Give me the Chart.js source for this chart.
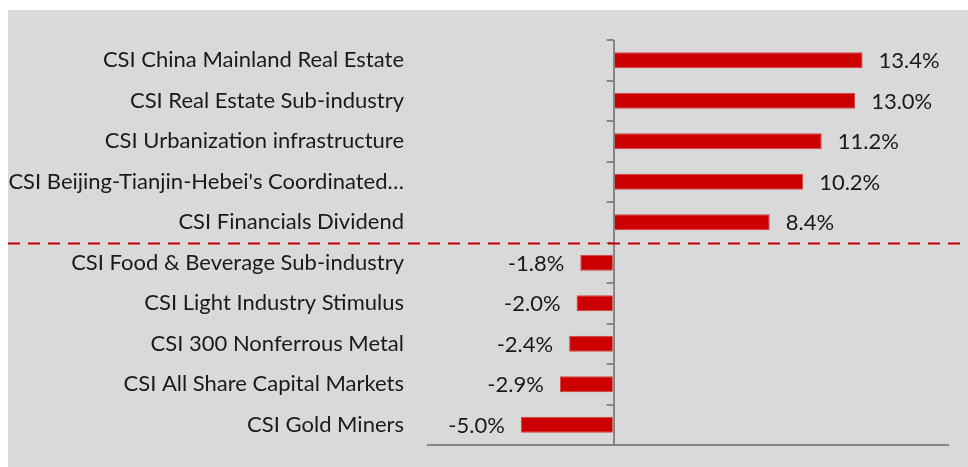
<!DOCTYPE html>
<html>
<head>
<meta charset="utf-8">
<script src="https://cdn.jsdelivr.net/npm/chart.js@4"></script>
<style>
  body { margin: 0; background: #fff; }
  #wrap { position: absolute; left: 8px; top: 10px; width: 960px; height: 457px; background: #d9d9d9; }
</style>
</head>
<body>
<div id="wrap"><canvas id="chart" width="960" height="457"></canvas></div>
<script>
const categories = [
  "CSI China Mainland Real Estate",
  "CSI Real Estate Sub-industry",
  "CSI Urbanization infrastructure",
  "CSI Beijing-Tianjin-Hebei's Coordinated…",
  "CSI Financials Dividend",
  "CSI Food & Beverage Sub-industry",
  "CSI Light Industry Stimulus",
  "CSI 300 Nonferrous Metal",
  "CSI All Share Capital Markets",
  "CSI Gold Miners"
];
const values = [13.4, 13.0, 11.2, 10.2, 8.4, -1.8, -2.0, -2.4, -2.9, -5.0];
const splitAfter = 4; // dashed line below this row

const FONT = "Lato, 'Liberation Sans', sans-serif";
const FONT_SIZE = 22;

// value labels, zero-line ticks and the dashed divider
const extras = {
  id: 'extras',
  afterDatasetsDraw(chart) {
    const ctx = chart.ctx;
    const xs = chart.scales.x;
    const ys = chart.scales.y;
    const x0 = xs.getPixelForValue(0);
    const step = ys.getPixelForValue(1) - ys.getPixelForValue(0);

    ctx.save();
    // ticks on the zero line at row boundaries
    ctx.strokeStyle = '#868686';
    ctx.lineWidth = 2;
    for (let i = 0; i <= categories.length; i++) {
      const y = Math.round(ys.getPixelForValue(i) - step / 2);
      ctx.beginPath();
      ctx.moveTo(x0 - 7, y);
      ctx.lineTo(x0, y);
      ctx.stroke();
    }

    // value labels
    ctx.font = FONT_SIZE + 'px ' + FONT;
    ctx.fillStyle = '#1a1a1a';
    ctx.textBaseline = 'middle';
    values.forEach((v, i) => {
      const y = ys.getPixelForValue(i);
      const xe = xs.getPixelForValue(v);
      const txt = v.toFixed(1) + '%';
      if (v >= 0) {
        ctx.textAlign = 'left';
        ctx.fillText(txt, xe + 16, y + 1);
      } else {
        ctx.textAlign = 'right';
        ctx.fillText(txt, xe - 16, y + 1);
      }
    });

    // dashed divider
    const yd = Math.round(ys.getPixelForValue(splitAfter) + step / 2) + 0.5;
    ctx.strokeStyle = '#c00000';
    ctx.lineWidth = 2;
    ctx.setLineDash([12, 8]);
    ctx.beginPath();
    ctx.moveTo(0, yd);
    ctx.lineTo(chart.width, yd);
    ctx.stroke();
    ctx.restore();
  }
};

new Chart(document.getElementById('chart'), {
  type: 'bar',
  data: {
    labels: categories,
    datasets: [{
      data: values,
      backgroundColor: '#cc0000',
      borderColor: '#d64040',
      borderWidth: 1,
      barPercentage: 0.4,
      categoryPercentage: 1
    }]
  },
  options: {
    indexAxis: 'y',
    responsive: false,
    animation: false,
    layout: { padding: { top: 30, right: 20, bottom: 22, left: 0 } },
    plugins: { legend: { display: false }, tooltip: { enabled: false } },
    scales: {
      x: {
        min: -10,
        max: 18,
        ticks: { display: false, stepSize: 2 },
        grid: {
          drawTicks: false,
          lineWidth: 2,
          color: (c) => (c.tick && c.tick.value === 0 ? '#868686' : 'transparent')
        },
        border: { display: true, color: '#868686', width: 2 },
        afterFit(scale) { scale.height = 0; scale.paddingLeft = 0; scale.paddingRight = 0; }
      },
      y: {
        grid: { display: false, drawTicks: false },
        border: { display: false },
        ticks: {
          color: '#1a1a1a',
          padding: 24,
          font: { family: FONT, size: FONT_SIZE }
        },
        afterFit(scale) { scale.width = 420; scale.paddingTop = 0; scale.paddingBottom = 0; }
      }
    }
  },
  plugins: [extras]
});
</script>
</body>
</html>
